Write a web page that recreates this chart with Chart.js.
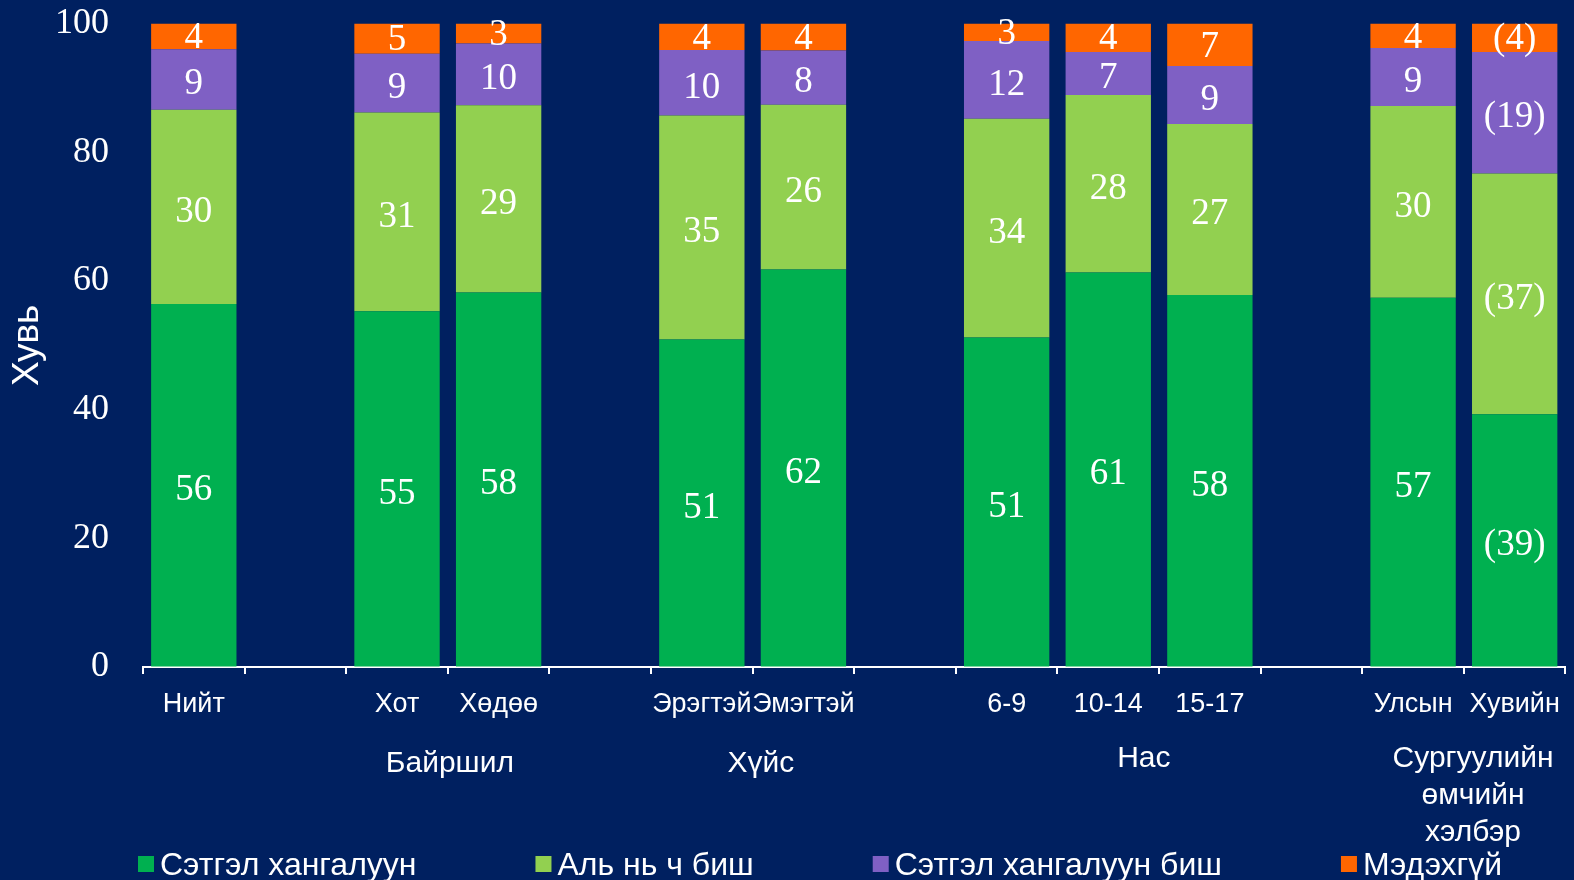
<!DOCTYPE html>
<html>
<head>
<meta charset="utf-8">
<script src="https://cdn.jsdelivr.net/npm/chart.js@4.4.0/dist/chart.umd.min.js"></script>
<style>
  html, body { margin: 0; padding: 0; background: #002060; }
  #wrap { width: 1574px; height: 880px; position: relative; }
</style>
</head>
<body>
<div id="wrap"><canvas id="chart" width="1574" height="880"></canvas></div>
<script>
// Categories (empty strings are the spacer slots between groups)
const categories = ['Нийт', '', 'Хот', 'Хөдөө', '', 'Эрэгтэй', 'Эмэгтэй', '', '6-9', '10-14', '15-17', '', 'Улсын', 'Хувийн'];

// Series values, percent
const satisfied    = [56.4, null, 55.3, 58.2, null, 50.9, 61.8, null, 51.2, 61.3, 57.8, null, 57.4, 39.3];
const neither      = [30.2, null, 30.9, 29.1, null, 34.8, 25.6, null, 34.0, 27.6, 26.6, null, 29.8, 37.4];
const notSatisfied = [9.4,  null, 9.1,  9.6,  null, 10.2, 8.4,  null, 12.1, 6.7,  9.0,  null, 9.0,  18.9];
const dontKnow     = [4.0,  null, 4.7,  3.1,  null, 4.1,  4.2,  null, 2.7,  4.4,  6.6,  null, 3.8,  4.4];

const seriesNames = ['Сэтгэл хангалуун', 'Аль нь ч биш', 'Сэтгэл хангалуун биш', 'Мэдэхгүй'];
const seriesColors = ['#00b050', '#92d050', '#7f60c4', '#ff6600'];

// categories whose numbers are shown in brackets (small base)
const bracketed = ['Хувийн'];

// group labels under the axis, placed at category index positions
const groupLabels = [['Байршил'], ['Хүйс'], ['Нас'], ['Сургуулийн', 'өмчийн', 'хэлбэр']];
const groupPositions = [2.52, 5.58, 9.35, 12.59];
const groupDrop = [97, 97, 92, 92];

const yTicks = [0, 20, 40, 60, 80, 100];

const sans = "Arial, 'Liberation Sans', sans-serif";
const serif = "'Times New Roman', 'Liberation Serif', serif";

// value labels in the middle of each segment
const valueLabels = {
  id: 'valueLabels',
  afterDatasetsDraw(chart) {
    const ctx = chart.ctx;
    ctx.save();
    ctx.fillStyle = '#ffffff';
    ctx.font = '37px ' + serif;
    ctx.textAlign = 'center';
    ctx.textBaseline = 'middle';
    chart.data.datasets.forEach((ds, di) => {
      const meta = chart.getDatasetMeta(di);
      meta.data.forEach((bar, i) => {
        const v = ds.data[i];
        if (v == null) return;
        let txt = String(Math.round(v));
        if (bracketed.includes(categories[i])) txt = '(' + txt + ')';
        const c = bar.getCenterPoint();
        ctx.fillText(txt, c.x, c.y + (di === 3 ? 2 : 5));
      });
    });
    ctx.restore();
  }
};

// group captions and bottom legend
const extras = {
  id: 'extras',
  afterDraw(chart) {
    const ctx = chart.ctx;
    const x = chart.scales.x;
    const area = chart.chartArea;
    ctx.save();
    ctx.fillStyle = '#ffffff';
    ctx.font = '30px ' + sans;
    ctx.textAlign = 'center';
    ctx.textBaseline = 'middle';
    groupLabels.forEach((lines, g) => {
      const px = x.getPixelForValue(groupPositions[g]);
      lines.forEach((line, k) => {
        ctx.fillText(line, px, area.bottom + groupDrop[g] + k * 37);
      });
    });

    // legend
    ctx.font = '32px ' + sans;
    ctx.textAlign = 'left';
    let lx = area.left - 5;
    const ly = 864;
    seriesNames.forEach((name, i) => {
      ctx.fillStyle = seriesColors[i];
      ctx.fillRect(lx, ly - 8, 16, 16);
      ctx.fillStyle = '#ffffff';
      ctx.fillText(name, lx + 22, ly + 2);
      lx += 22 + ctx.measureText(name).width + 119;
    });
    ctx.restore();
  }
};

const ctx = document.getElementById('chart').getContext('2d');
new Chart(ctx, {
  type: 'bar',
  data: {
    labels: categories,
    datasets: [satisfied, neither, notSatisfied, dontKnow].map((d, i) => ({
      label: seriesNames[i],
      data: d,
      backgroundColor: seriesColors[i],
      borderWidth: 0,
      barPercentage: 0.84,
      categoryPercentage: 1
    }))
  },
  options: {
    responsive: false,
    animation: false,
    layout: { autoPadding: false, padding: { top: 23, right: 4, bottom: 0, left: 0 } },
    plugins: {
      legend: { display: false },
      tooltip: { enabled: false }
    },
    scales: {
      x: {
        stacked: true,
        offset: true,
        grid: {
          display: true,
          offset: true,
          drawOnChartArea: false,
          drawTicks: true,
          tickLength: 7,
          color: '#ffffff',
          lineWidth: 2
        },
        border: { display: true, color: '#ffffff', width: 2 },
        ticks: {
          color: '#ffffff',
          font: { family: sans, size: 27 },
          maxRotation: 0,
          autoSkip: false,
          padding: 14
        },
        afterFit(scale) { scale.height = 880 - 667; }
      },
      y: {
        stacked: true,
        min: 0,
        max: 100,
        afterBuildTicks(scale) { scale.ticks = yTicks.map(v => ({ value: v })); },
        grid: {
          display: true,
          drawOnChartArea: false,
          drawTicks: true,
          tickLength: 32,
          color: 'rgba(0,0,0,0)'
        },
        border: { display: false },
        ticks: {
          color: '#ffffff',
          font: { family: serif, size: 36 },
          padding: 2
        },
        title: {
          display: true,
          text: 'Хувь',
          color: '#ffffff',
          font: { family: sans, size: 37 },
          padding: { top: 6, bottom: 0 }
        },
        afterFit(scale) { scale.width = 143; }
      }
    }
  },
  plugins: [valueLabels, extras]
});
</script>
</body>
</html>
